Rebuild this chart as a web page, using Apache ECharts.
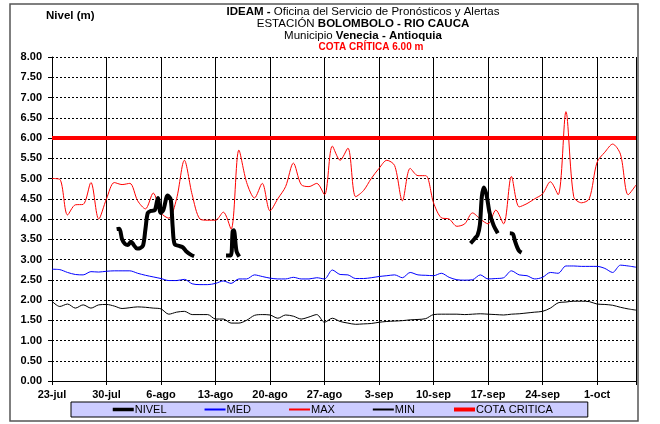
<!DOCTYPE html>
<html><head><meta charset="utf-8">
<script src="https://cdn.jsdelivr.net/npm/echarts@6/dist/echarts.min.js"></script>
<style>html,body{margin:0;padding:0;background:#fff}#c{width:660px;height:424px}</style>
</head><body><div id="c"></div>
<script>
// Day index 0 = 23-jul ... 75 = 6-oct
const tickLabels = ['23-jul','30-jul','6-ago','13-ago','20-ago','27-ago','3-sep','10-sep','17-sep','24-sep','1-oct'];
const legendNames = ['NIVEL','MED','MAX','MIN','COTA CRITICA'];
const cotaCritica = 6.0;
const numDays = 76;

const maxVals = [5.0,4.98,4.1,4.35,4.36,4.9,4.0,4.5,4.9,4.85,4.88,4.45,4.25,4.64,4.15,4.02,4.5,5.45,4.6,4.0,
  3.97,3.97,4.17,3.75,5.7,4.9,4.52,4.88,4.2,4.5,4.8,5.38,4.85,4.8,4.88,4.6,5.8,5.45,5.75,4.55,
  4.7,5.0,5.25,5.45,5.32,4.45,5.25,5.07,5.07,4.4,4.03,4.0,3.82,3.88,4.15,4.0,3.88,4.22,3.88,5.05,
  4.3,4.38,4.5,4.62,4.92,4.6,6.65,4.55,4.4,4.5,5.4,5.65,5.85,5.6,4.6,4.84];
const medVals = [2.76,2.75,2.68,2.63,2.62,2.7,2.69,2.71,2.72,2.72,2.72,2.66,2.61,2.57,2.53,2.48,2.48,2.51,2.4,2.38,
  2.38,2.41,2.47,2.41,2.52,2.52,2.62,2.58,2.54,2.52,2.52,2.56,2.52,2.52,2.55,2.52,2.74,2.63,2.62,2.53,
  2.53,2.55,2.58,2.6,2.62,2.55,2.68,2.62,2.61,2.6,2.66,2.56,2.5,2.49,2.5,2.62,2.52,2.53,2.55,2.72,
  2.62,2.6,2.52,2.56,2.68,2.66,2.84,2.84,2.83,2.83,2.83,2.78,2.68,2.86,2.84,2.81];
const minVals = [1.97,1.84,1.9,1.8,1.88,1.8,1.88,1.89,1.85,1.79,1.81,1.83,1.82,1.8,1.78,1.65,1.7,1.72,1.64,1.64,
  1.64,1.53,1.53,1.43,1.43,1.5,1.62,1.64,1.63,1.55,1.63,1.6,1.53,1.58,1.64,1.45,1.55,1.47,1.43,1.4,
  1.41,1.42,1.45,1.47,1.48,1.49,1.51,1.52,1.54,1.64,1.65,1.65,1.65,1.64,1.65,1.66,1.65,1.64,1.63,1.65,
  1.66,1.68,1.7,1.72,1.8,1.93,1.95,1.97,1.97,1.96,1.9,1.89,1.87,1.82,1.78,1.75];

// NIVEL observations: [day (fractional), level]
const nivelSeg1 = [[8.3,3.75],[8.65,3.76],[9.0,3.5],[9.4,3.38],[9.75,3.36],[10.15,3.44],[10.5,3.36],[10.9,3.27],[11.3,3.28],[11.7,3.35],[12.0,3.75],[12.3,4.15],[12.7,4.2],[13.2,4.22],[13.6,4.52],[13.95,4.15],[14.3,4.22],[14.85,4.58],[15.25,4.48],[15.5,3.8],[15.75,3.38],[16.4,3.33],[16.8,3.3],[17.3,3.19],[17.8,3.12],[18.25,3.08]];
const nivelSeg2 = [[22.35,3.1],[22.95,3.1],[23.2,3.7],[23.35,3.72],[23.7,3.2],[24.05,3.07]];
const nivelSeg3 = [[53.75,3.4],[54.3,3.52],[54.65,3.6],[54.95,3.85],[55.2,4.55],[55.45,4.78],[55.8,4.6],[56.2,4.15],[56.7,3.85],[57.25,3.65]];
const nivelSeg4 = [[58.8,3.65],[59.2,3.63],[59.45,3.46],[59.75,3.3],[60.0,3.21],[60.3,3.17]];

const FONT = 'Liberation Sans, Arial, sans-serif';
const daily = arr => arr.map((v, i) => [i, v]);
const cotaData = Array.from({length: numDays}, (_, i) => [i, cotaCritica]);
const seriesColors = {'NIVEL': '#000000', 'MED': '#0000ff', 'MAX': '#ff0000', 'MIN': '#000000', 'COTA CRITICA': '#ff0000'};
const thickLegend = {'NIVEL': 3.5, 'COTA CRITICA': 4};

function nivelSeries(d) {
  return {name: 'NIVEL', type: 'line', data: d, smooth: 0.3, symbol: 'none', z: 6,
    lineStyle: {color: seriesColors.NIVEL, width: 4}, itemStyle: {color: seriesColors.NIVEL}};
}

const chart = echarts.init(document.getElementById('c'), null, {renderer: 'canvas'});
chart.setOption({
  animation: false,
  textStyle: {fontFamily: FONT},
  grid: {left: 52, right: 24, top: 57, bottom: 43},
  graphic: [
    {type: 'rect', z: -1, shape: {x: 10, y: 4, width: 628, height: 417}, style: {fill: 'none', stroke: '#555', lineWidth: 1.5}},
    {type: 'text', x: 46, y: 16, style: {text: 'Nivel (m)', font: 'bold 11.5px ' + FONT, fill: '#000', verticalAlign: 'middle'}},
    {type: 'text', x: 363, y: 12, style: {text: '{b|IDEAM -} Oficina del Servicio de Pronósticos y Alertas', font: '11.5px ' + FONT, fill: '#000', align: 'center', verticalAlign: 'middle',
      rich: {b: {font: 'bold 11.5px ' + FONT, fill: '#000'}}}},
    {type: 'text', x: 363, y: 24, style: {text: 'ESTACIÓN {b|BOLOMBOLO - RIO CAUCA}', font: '11.5px ' + FONT, fill: '#000', align: 'center', verticalAlign: 'middle',
      rich: {b: {font: 'bold 11.5px ' + FONT, fill: '#000'}}}},
    {type: 'text', x: 363, y: 35.5, style: {text: 'Municipio {b|Venecia - Antioquia}', font: '11.5px ' + FONT, fill: '#000', align: 'center', verticalAlign: 'middle',
      rich: {b: {font: 'bold 11.5px ' + FONT, fill: '#000'}}}},
    {type: 'text', x: 371, y: 47, style: {text: 'COTA CRÍTICA 6.00 m', font: 'bold 10px ' + FONT, fill: '#ff0000', align: 'center', verticalAlign: 'middle'}}
  ],
  legend: {
    data: legendNames.map(n => thickLegend[n] ? {name: n, lineStyle: {color: seriesColors[n], width: thickLegend[n]}} : {name: n}),
    left: 71, top: 402, orient: 'horizontal',
    backgroundColor: '#CCCCFF', borderColor: '#000', borderWidth: 1,
    padding: [2, 35, 2, 40], itemGap: 37, itemWidth: 21, itemHeight: 11,
    itemStyle: {opacity: 0},
    textStyle: {fontFamily: FONT, fontSize: 11, color: '#000', padding: [0, 0, 0, -4]}
  },
  xAxis: {
    type: 'value', min: 0, max: numDays - 1, interval: 7,
    axisLine: {lineStyle: {color: '#000', width: 1}},
    axisTick: {show: true, length: 4, lineStyle: {color: '#000'}},
    splitLine: {show: true, lineStyle: {color: '#000', width: 1, type: 'solid'}},
    axisLabel: {margin: 8, color: '#000', fontWeight: 'bold', fontSize: 11, fontFamily: FONT,
      formatter: v => (v % 7 === 0 && tickLabels[v / 7]) ? tickLabels[v / 7] : ''}
  },
  yAxis: {
    type: 'value', min: 0, max: 8, interval: 0.5,
    axisLine: {show: true, lineStyle: {color: '#000', width: 1}},
    axisTick: {show: true, length: 4, lineStyle: {color: '#000'}},
    splitLine: {show: true, lineStyle: {color: '#000', width: 1, type: [2, 2]}},
    axisLabel: {margin: 10, color: '#000', fontWeight: 'bold', fontSize: 11, fontFamily: FONT,
      formatter: v => v.toFixed(2)}
  },
  series: [
    nivelSeries(nivelSeg1),
    {name: 'MED', type: 'line', data: daily(medVals), smooth: 0.3, symbol: 'none', z: 3,
      lineStyle: {color: seriesColors.MED, width: 1}, itemStyle: {color: seriesColors.MED}},
    {name: 'MAX', type: 'line', data: daily(maxVals), smooth: 0.3, symbol: 'none', z: 3,
      lineStyle: {color: seriesColors.MAX, width: 1}, itemStyle: {color: seriesColors.MAX}},
    {name: 'MIN', type: 'line', data: daily(minVals), smooth: 0.3, symbol: 'none', z: 3,
      lineStyle: {color: seriesColors.MIN, width: 1}, itemStyle: {color: seriesColors.MIN}},
    {name: 'COTA CRITICA', type: 'line', data: cotaData, symbol: 'none', z: 4,
      lineStyle: {color: seriesColors['COTA CRITICA'], width: 4}, itemStyle: {color: seriesColors['COTA CRITICA']}},
    nivelSeries(nivelSeg2),
    nivelSeries(nivelSeg3),
    nivelSeries(nivelSeg4)
  ]
});
</script></body></html>
